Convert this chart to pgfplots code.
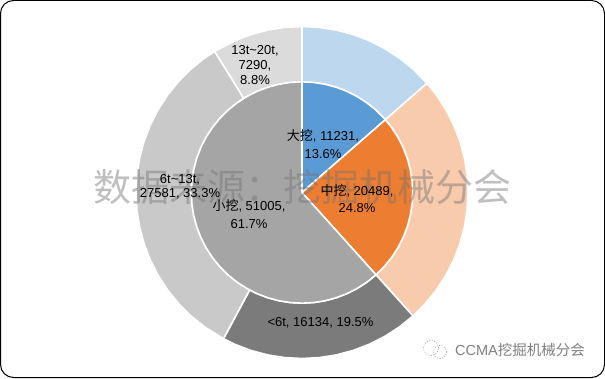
\documentclass[border=0pt]{standalone}
\usepackage{fontspec}
\usepackage{pgfplots}
\pgfplotsset{compat=1.18}
\usepgfplotslibrary{polar}
\setmainfont{Liberation Sans}
\newfontfamily\cjk{Noto Sans CJK SC}
\definecolor{cBlue}{HTML}{5B9BD5}
\definecolor{cBlueL}{HTML}{BDD7EE}
\definecolor{cOrange}{HTML}{ED7D31}
\definecolor{cOrangeL}{HTML}{F8CBAD}
\definecolor{cGray}{HTML}{A5A5A5}
\definecolor{cDark}{HTML}{7B7B7B}
\definecolor{cMid}{HTML}{C9C9C9}
\definecolor{cLight}{HTML}{DBDBDB}
\newcommand{\lab}[4][15]{\node[inner sep=0pt,align=center,text=black,font=\fontsize{13}{#1}\selectfont] at (#2,378-#3) {#4};}
\begin{document}
\begin{tikzpicture}[x=1pt,y=1pt]
\path[use as bounding box] (0,0) rectangle (605,378);
\fill[white] (0,0) rectangle (605,378);
\begin{polaraxis}[
  at={(302pt,185.5pt)},anchor=center,
  width=332pt,height=332pt,scale only axis,
  xmin=0,xmax=360,ymin=0,ymax=165,
  hide axis,clip=false,
  every axis plot/.append style={draw=white,line width=1.6pt,line join=round,mark=none},
]
% outer ring: series shares, angle (deg) and radius (px)
\addplot[fill=cBlueL] coordinates {(90,165)(84,165)(78,165)(72,165)(66,165)(60,165)(54,165)(48,165)(41.13,165)(41.13,110)(48,110)(54,110)(60,110)(66,110)(72,110)(78,110)(84,110)(90,110)} -- cycle;
\addplot[fill=cOrangeL] coordinates {(41.13,165)(36,165)(30,165)(24,165)(18,165)(12,165)(6,165)(0,165)(-6,165)(-12,165)(-18,165)(-24,165)(-30,165)(-36,165)(-42,165)(-48.03,165)(-48.03,110)(-42,110)(-36,110)(-30,110)(-24,110)(-18,110)(-12,110)(-6,110)(0,110)(6,110)(12,110)(18,110)(24,110)(30,110)(36,110)(41.13,110)} -- cycle;
\addplot[fill=cDark] coordinates {(-48.03,165)(-54,165)(-60,165)(-66,165)(-72,165)(-78,165)(-84,165)(-90,165)(-96,165)(-102,165)(-108,165)(-114,165)(-118.24,165)(-118.24,110)(-114,110)(-108,110)(-102,110)(-96,110)(-90,110)(-84,110)(-78,110)(-72,110)(-66,110)(-60,110)(-54,110)(-48.03,110)} -- cycle;
\addplot[fill=cMid] coordinates {(-118.24,165)(-126,165)(-132,165)(-138,165)(-144,165)(-150,165)(-156,165)(-162,165)(-168,165)(-174,165)(-180,165)(-186,165)(-192,165)(-198,165)(-204,165)(-210,165)(-216,165)(-222,165)(-228,165)(-234,165)(-238.27,165)(-238.27,110)(-234,110)(-228,110)(-222,110)(-216,110)(-210,110)(-204,110)(-198,110)(-192,110)(-186,110)(-180,110)(-174,110)(-168,110)(-162,110)(-156,110)(-150,110)(-144,110)(-138,110)(-132,110)(-126,110)(-118.24,110)} -- cycle;
\addplot[fill=cLight] coordinates {(-238.27,165)(-246,165)(-252,165)(-258,165)(-264,165)(-270,165)(-270,110)(-264,110)(-258,110)(-252,110)(-246,110)(-238.27,110)} -- cycle;
% inner pie
\addplot[fill=cBlue] coordinates {(0,0)(90,110)(84,110)(78,110)(72,110)(66,110)(60,110)(54,110)(48,110)(41.13,110)} -- cycle;
\addplot[fill=cOrange] coordinates {(0,0)(41.13,110)(36,110)(30,110)(24,110)(18,110)(12,110)(6,110)(0,110)(-6,110)(-12,110)(-18,110)(-24,110)(-30,110)(-36,110)(-42,110)(-48.03,110)} -- cycle;
\addplot[fill=cGray] coordinates {(0,0)(-48.03,110)(-54,110)(-60,110)(-66,110)(-72,110)(-78,110)(-84,110)(-90,110)(-96,110)(-102,110)(-108,110)(-114,110)(-120,110)(-126,110)(-132,110)(-138,110)(-144,110)(-150,110)(-156,110)(-162,110)(-168,110)(-174,110)(-180,110)(-186,110)(-192,110)(-198,110)(-204,110)(-210,110)(-216,110)(-222,110)(-228,110)(-234,110)(-240,110)(-246,110)(-252,110)(-258,110)(-264,110)(-270,110)} -- cycle;
\end{polaraxis}
% watermark
\node[inner sep=0pt,text=black!55,opacity=0.45,font=\fontsize{38}{40}\selectfont\cjk] at (302.5,191) {数据来源：挖掘机械分会};
% labels
\lab{255}{65}{13t\textasciitilde20t,\\7290,\\8.8\%}
\lab[18]{323}{144}{{\cjk 大挖}, 11231,\\13.6\%}
\lab[17]{357}{198.5}{{\cjk 中挖}, 20489,\\24.8\%}
\lab[18]{249}{214}{{\cjk 小挖}, 51005,\\61.7\%}
\lab[14.5]{180}{187}{6t\textasciitilde13t,\\27581, 33.3\%}
\lab{320.5}{323}{<6t, 16134, 19.5\%}
% wechat mark and signature
\node[inner sep=0pt,anchor=west,text=black!50,font=\fontsize{14.5}{15}\selectfont] at (455,28) {CCMA{\cjk 挖掘机械分会}};
\draw[black!40,line width=0.5pt,dash pattern=on 1pt off 1.5pt] (431,30) circle (7.5);
\draw[black!40,line width=0.5pt,dash pattern=on 1pt off 1.5pt] (440,26) circle (6.5);
% frame
\draw[black,line width=1pt,rounded corners=13pt] (0.5,0.5) rectangle (604.5,377.5);
\end{tikzpicture}
\end{document}
